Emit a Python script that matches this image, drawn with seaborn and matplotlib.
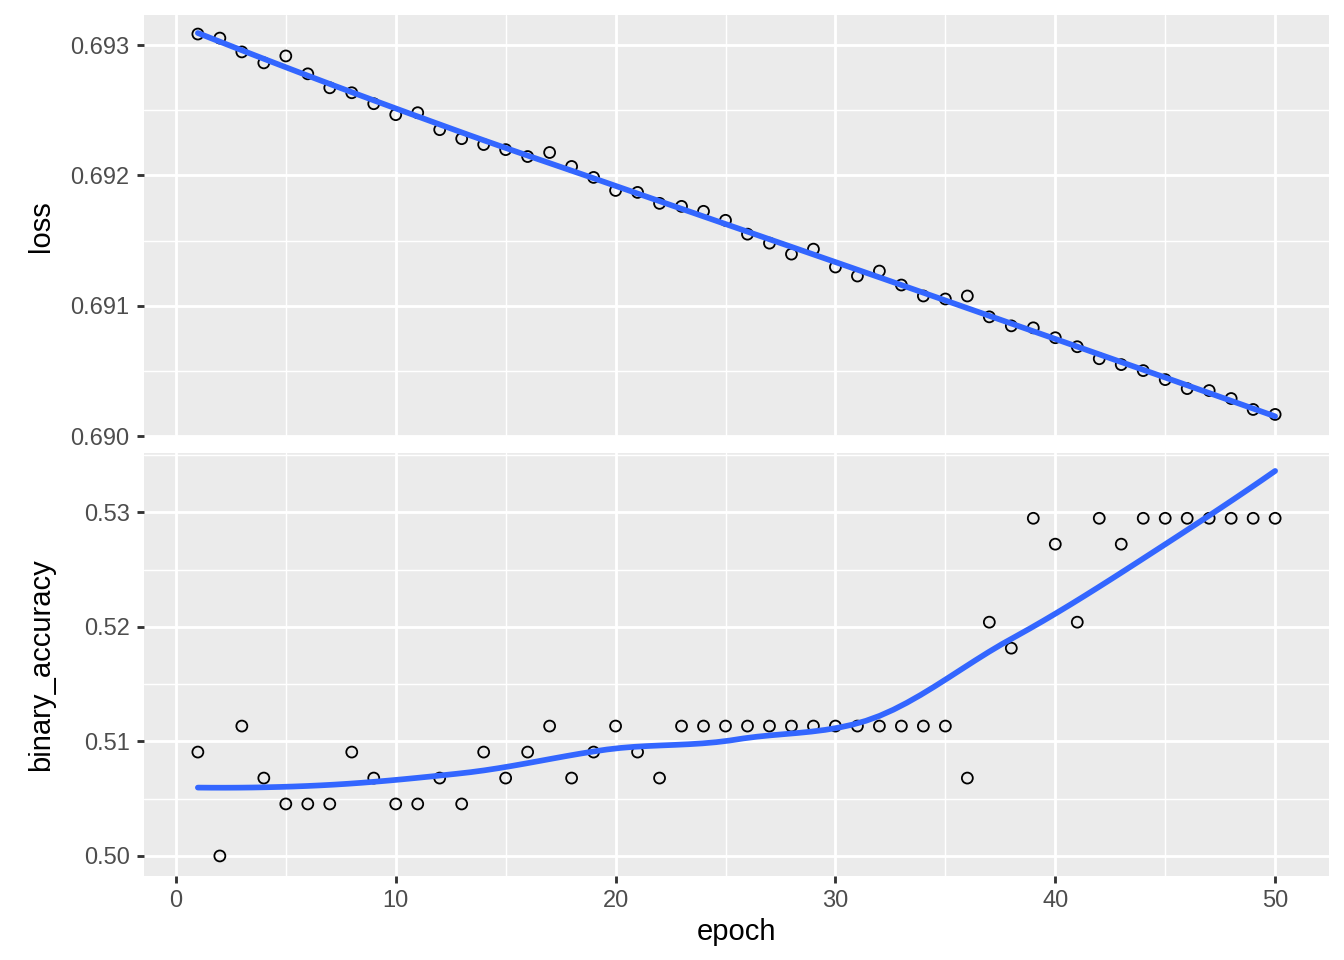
import numpy as np
import pandas as pd
import matplotlib
matplotlib.use('Agg')
import matplotlib.pyplot as plt
from matplotlib.ticker import MultipleLocator
import seaborn as sns

epoch = list(range(1, 51))
loss = [0.693084, 0.693053, 0.692947, 0.692863, 0.692916, 0.692779, 0.692672, 0.692634, 0.692550, 0.692466,
        0.692481, 0.692351, 0.692282, 0.692237, 0.692198, 0.692145, 0.692176, 0.692069, 0.691985, 0.691885,
        0.691870, 0.691786, 0.691763, 0.691725, 0.691656, 0.691550, 0.691481, 0.691397, 0.691435, 0.691298,
        0.691229, 0.691267, 0.691160, 0.691076, 0.691053, 0.691076, 0.690916, 0.690847, 0.690832, 0.690756,
        0.690687, 0.690595, 0.690550, 0.690504, 0.690435, 0.690366, 0.690351, 0.690290, 0.690206, 0.690168]
binary_accuracy = [0.50907, 0.50000, 0.51134, 0.50680, 0.50454, 0.50454, 0.50454, 0.50907, 0.50680, 0.50454,
                   0.50454, 0.50680, 0.50454, 0.50907, 0.50680, 0.50907, 0.51134, 0.50680, 0.50907, 0.51134,
                   0.50907, 0.50680, 0.51134, 0.51134, 0.51134, 0.51134, 0.51134, 0.51134, 0.51134, 0.51134,
                   0.51134, 0.51134, 0.51134, 0.51134, 0.51134, 0.50680, 0.52041, 0.51814, 0.52948, 0.52722,
                   0.52041, 0.52948, 0.52722, 0.52948, 0.52948, 0.52948, 0.52948, 0.52948, 0.52948, 0.52948]

df = pd.DataFrame({'epoch': epoch, 'loss': loss, 'binary_accuracy': binary_accuracy})


# local quadratic fit at x0, returns value and slope
def local_fit(x, y, x0, q):
    d = np.abs(x - x0)
    h = np.sort(d)[q - 1]
    w = np.clip(1 - (d / h) ** 3, 0, None) ** 3
    X = np.column_stack([np.ones_like(x), x - x0, (x - x0) ** 2])
    W = np.sqrt(w)
    beta = np.linalg.lstsq(X * W[:, None], y * W, rcond=None)[0]
    return beta[0], beta[1]


# split points into cells like loess' kd tree, return vertices
def kd_vertices(xs, fc):
    if len(xs) <= fc:
        return []
    n = len(xs)
    m = (n - 1) // 2
    v = (xs[m] + xs[m + 1]) / 2 if n % 2 == 0 else xs[m]
    left = xs[xs <= v]
    right = xs[xs > v]
    return kd_vertices(left, fc) + [v] + kd_vertices(right, fc)


# R style loess (span 0.75, degree 2, interpolated surface)
def loess(x, y, grid, span=0.75):
    x = np.asarray(x, float)
    y = np.asarray(y, float)
    q = int(np.floor(len(x) * span))
    fc = int(np.floor(len(x) * span * 0.2))
    xs = np.sort(x)
    t = 0.005 * (xs[-1] - xs[0])
    verts = np.array([xs[0] - t] + kd_vertices(xs, fc) + [xs[-1] + t])
    vals = np.array([local_fit(x, y, v, q) for v in verts])
    out = []
    for g in grid:
        i = min(np.searchsorted(verts, g, side='right') - 1, len(verts) - 2)
        x0, x1 = verts[i], verts[i + 1]
        hgt = x1 - x0
        u = (g - x0) / hgt
        h00 = 2 * u ** 3 - 3 * u ** 2 + 1
        h10 = u ** 3 - 2 * u ** 2 + u
        h01 = -2 * u ** 3 + 3 * u ** 2
        h11 = u ** 3 - u ** 2
        out.append(h00 * vals[i, 0] + h10 * hgt * vals[i, 1] + h01 * vals[i + 1, 0] + h11 * hgt * vals[i + 1, 1])
    return np.array(out)


grid = np.linspace(min(epoch), max(epoch), 80)

sns.set_style('darkgrid', {'axes.facecolor': '#EBEBEB', 'grid.color': 'white'})
plt.rcParams['font.family'] = ['Liberation Sans', 'DejaVu Sans']

fig = plt.figure(figsize=(13.44, 9.6), dpi=100)
ax1 = fig.add_axes([144 / 1344, 1 - 437 / 960, 1185 / 1344, 422 / 960])
ax2 = fig.add_axes([144 / 1344, 1 - 876 / 960, 1185 / 1344, 423 / 960])

panels = [(ax1, 'loss', (0.689995, 0.69323), 0.001), (ax2, 'binary_accuracy', (0.49825, 0.53518), 0.01)]
for ax, col, lim, step in panels:
    sns.scatterplot(data=df, x='epoch', y=col, ax=ax, marker='o', s=62,
                    facecolors='none', edgecolor='black', linewidth=1.3, zorder=3)
    smooth = pd.DataFrame({'epoch': grid, col: loess(df['epoch'], df[col], grid)})
    sns.lineplot(data=smooth, x='epoch', y=col, ax=ax, color='#3366FF', linewidth=4.1, zorder=4)
    ax.set_xlim(-1.45, 52.45)
    ax.set_ylim(*lim)
    ax.xaxis.set_major_locator(MultipleLocator(10))
    ax.xaxis.set_minor_locator(MultipleLocator(5))
    ax.yaxis.set_major_locator(MultipleLocator(step))
    ax.yaxis.set_minor_locator(MultipleLocator(step / 2))
    ax.grid(which='major', color='white', linewidth=2.05)
    ax.grid(which='minor', color='white', linewidth=1.02)
    ax.set_axisbelow(True)
    for s in ax.spines.values():
        s.set_visible(False)
    ax.tick_params(which='major', length=5.3, width=2.05, color='#333333',
                   labelsize=17, labelcolor='#4D4D4D', pad=5, left=True, bottom=True)
    ax.tick_params(which='minor', length=0)
    ax.set_ylabel(col, fontsize=21, color='black')
    ax.yaxis.set_label_coords((55 - 144) / 1185, 0.5)

ax1.yaxis.set_major_formatter(plt.FormatStrFormatter('%.3f'))
ax2.yaxis.set_major_formatter(plt.FormatStrFormatter('%.2f'))
ax1.set_xlabel('')
ax1.tick_params(axis='x', which='both', length=0, labelbottom=False, bottom=False)
ax2.set_xlabel('epoch', fontsize=21, color='black')
ax2.xaxis.set_label_coords(0.5, -0.099)

fig.savefig('out.png', dpi=100, facecolor='white')
